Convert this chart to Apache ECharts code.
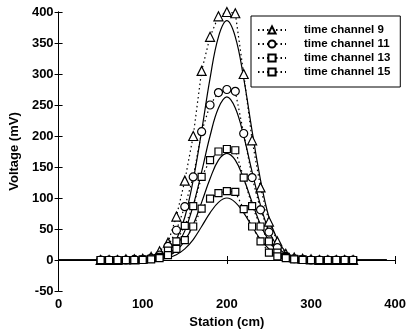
<!DOCTYPE html>
<html>
<head>
<meta charset="utf-8">
<script src="https://cdn.jsdelivr.net/npm/echarts@6/dist/echarts.min.js"></script>
<style>
  html, body { margin: 0; padding: 0; background: #fff; }
  #chart { width: 409px; height: 335px; }
</style>
</head>
<body>
<div id="chart"></div>
<script>
// Measured stations (cm)
const stations = [50, 60, 70, 80, 90, 100, 110, 120, 130, 140, 150, 160, 170, 180, 190, 200,
  210, 220, 230, 240, 250, 260, 270, 280, 290, 300, 310, 320, 330, 340, 350];

// Measured voltages (mV) per time channel
const ch9 = [0, 0, 0, 1, 1, 2, 5, 14, 28, 70, 128, 200, 305, 360, 393, 400,
  398, 300, 193, 117, 62, 30, 10, 4, 2, 1, 0, 0, 0, 0, 0];
const ch11 = [0, 0, 0, 0, 1, 1, 3, 8, 22, 48, 86, 134, 207, 250, 270, 275,
  272, 204, 133, 81, 45, 20, 6, 2, 1, 0, 0, 0, 0, 0, 0];
const ch13 = [0, 0, 0, 0, 0, 1, 2, 5, 15, 30, 55, 87, 134, 161, 175, 179,
  177, 133, 87, 54, 30, 12, 5, 2, 1, 0, 0, 0, 0, 0, 0];
const ch15 = [0, 0, 0, 0, 0, 0, 1, 3, 8, 18, 32, 54, 83, 99, 108, 111,
  110, 82, 54, 30, 12, 6, 3, 1, 0, 0, 0, 0, 0, 0, 0];

// Modelled response curves (solid lines)
const modelStations = [0, 10, 20, 30, 40, 50, 60, 70, 80, 90, 100, 110, 120, 130, 140, 150,
  160, 170, 180, 190, 200, 210, 220, 230, 240, 250, 260, 270, 280, 290, 300, 310, 320, 330,
  340, 350, 360, 370, 380, 390];
const model9 = [0, 0, 0, 0, 0, 0, 0, 0, 0, 0, 0, 1.5, 5, 13, 33, 69,
  129, 208, 293, 360, 386, 360, 293, 208, 129, 69, 33, 13, 5, 1.5, 0, 0, 0, 0, 0, 0, 0, 0, 0, 0];
const model11 = [0, 0, 0, 0, 0, 0, 0, 0, 0, 0, 0, 1, 3, 9, 22, 47,
  88, 142, 200, 245, 263, 245, 200, 142, 88, 47, 22, 9, 3, 1, 0, 0, 0, 0, 0, 0, 0, 0, 0, 0];
const model13 = [0, 0, 0, 0, 0, 0, 0, 0, 0, 0, 0, 0.5, 2, 6, 15, 31,
  57, 93, 131, 161, 172, 161, 131, 93, 57, 31, 15, 6, 2, 0.5, 0, 0, 0, 0, 0, 0, 0, 0, 0, 0];
const model15 = [0, 0, 0, 0, 0, 0, 0, 0, 0, 0, 0, 0, 1, 3.5, 8.5, 18,
  33, 54, 76, 93, 100, 93, 76, 54, 33, 18, 8.5, 3.5, 1, 0, 0, 0, 0, 0, 0, 0, 0, 0, 0, 0];

const channelNames = ['time channel 9', 'time channel 11', 'time channel 13', 'time channel 15'];

const FONT = '"Liberation Sans", Arial, Helvetica, sans-serif';
const pairs = (xs, ys) => xs.map((x, i) => [x, ys[i]]);

const chart = echarts.init(document.getElementById('chart'), null, { renderer: 'canvas' });

const tickStyle = { show: true, inside: true, length: 4, lineStyle: { color: '#000', width: 1 } };
const axisLine = { show: true, lineStyle: { color: '#000', width: 1 } };
const labelText = { color: '#000', fontSize: 13, fontWeight: 'bold', fontFamily: FONT };

function dataSeries(name, values, symbol, size) {
  return {
    name: name,
    type: 'line',
    data: pairs(stations, values),
    symbol: symbol,
    symbolSize: size,
    showAllSymbol: true,
    lineStyle: { color: '#000', width: 1.2, type: [1.5, 3] },
    itemStyle: { color: '#fff', borderColor: '#000', borderWidth: 1.2 },
    emphasis: { disabled: true },
    z: 3
  };
}

function modelSeries(values) {
  return {
    type: 'line',
    data: pairs(modelStations, values),
    symbol: 'none',
    smooth: 0.4,
    lineStyle: { color: '#000', width: 1.2 },
    emphasis: { disabled: true },
    silent: true,
    z: 2
  };
}

chart.setOption({
  animation: false,
  backgroundColor: '#fff',
  grid: { left: 57, right: 10, top: 12, bottom: 44, containLabel: false },
  xAxis: [{
    type: 'value', min: 0, max: 400, interval: 100,
    axisLine: axisLine, axisTick: tickStyle, splitLine: { show: false },
    axisLabel: Object.assign({ margin: 7 }, labelText),
    name: 'Station (cm)', nameLocation: 'middle', nameGap: 25,
    nameTextStyle: labelText
  }, {
    type: 'value', min: 0, max: 400, interval: 100, position: 'top',
    axisLine: axisLine, axisTick: tickStyle, axisLabel: { show: false }, splitLine: { show: false }
  }],
  yAxis: [{
    type: 'value', min: -50, max: 400, interval: 50,
    axisLine: axisLine, axisTick: tickStyle, splitLine: { show: false },
    axisLabel: Object.assign({ margin: 5 }, labelText),
    name: 'Voltage (mV)', nameLocation: 'middle', nameGap: 33, nameRotate: 90,
    nameTextStyle: labelText
  }, {
    type: 'value', min: -50, max: 400, interval: 50, position: 'right',
    axisLine: axisLine, axisTick: tickStyle, axisLabel: { show: false }, splitLine: { show: false }
  }],
  legend: {
    orient: 'vertical',
    left: 251, top: 16,
    padding: [7, 10, 8, 6],
    itemGap: 0,
    itemWidth: 28, itemHeight: 9,
    backgroundColor: '#fff',
    borderColor: '#000', borderWidth: 1, borderRadius: 0,
    textStyle: { color: '#000', fontSize: 11.5, fontWeight: 'bold', fontFamily: FONT,
      lineHeight: 14, padding: [0, 0, 0, 13] },
    data: channelNames
  },
  series: [
    modelSeries(model9), modelSeries(model11), modelSeries(model13), modelSeries(model15),
    dataSeries(channelNames[0], ch9, 'triangle', 9),
    dataSeries(channelNames[1], ch11, 'circle', 8),
    dataSeries(channelNames[2], ch13, 'rect', 7),
    dataSeries(channelNames[3], ch15, 'rect', 7)
  ]
});
</script>
</body>
</html>
